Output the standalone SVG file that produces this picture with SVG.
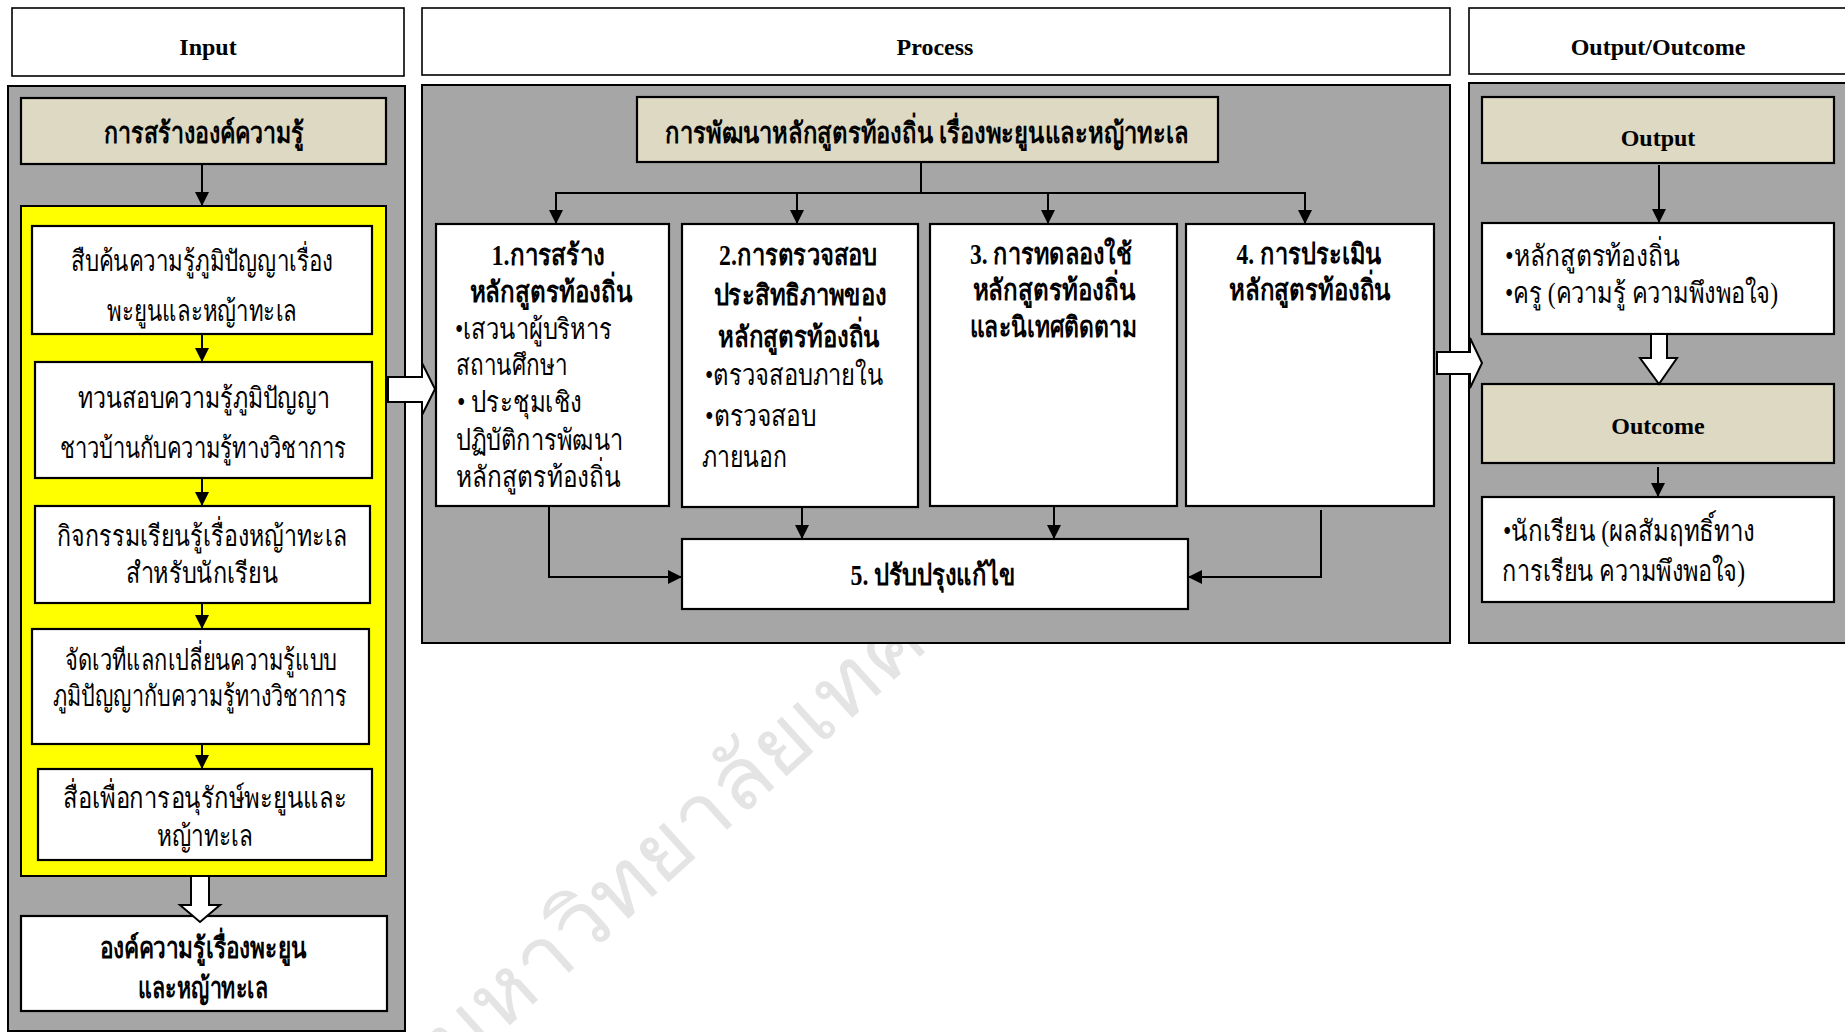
<svg xmlns="http://www.w3.org/2000/svg" width="1845" height="1032" viewBox="0 0 1845 1032">
<defs>
<marker id="ah" markerUnits="userSpaceOnUse" markerWidth="14" markerHeight="14" viewBox="0 0 14 14" refX="13" refY="7" orient="auto">
<path d="M0,0 L14,7 L0,14 z" fill="#000"/>
</marker>
<style>
.hdrbox{fill:#fff;stroke:#000;stroke-width:1.6}
.panel{fill:#a6a6a6;stroke:#000;stroke-width:2}
.beige{fill:#ddd9c3;stroke:#000;stroke-width:2.2}
.wbox{fill:#fff;stroke:#000;stroke-width:2.2}
.ybox{fill:#ffff00;stroke:#000;stroke-width:2}
.hollow{fill:#fff;stroke:#000;stroke-width:2;stroke-linejoin:miter}
.hdr{font-family:"Liberation Serif",serif;font-weight:bold;font-size:24px;fill:#000;text-anchor:middle}
.th{font-family:"Liberation Serif",serif;font-size:29px;fill:#000}
.thb{font-family:"Liberation Serif",serif;font-size:29px;font-weight:bold;fill:#000}
.c{text-anchor:middle}
.conn line,.conn polyline{stroke:#000;stroke-width:2;fill:none}
.wm{font-family:"Liberation Sans",sans-serif;font-size:85px;fill:#e4e4e4}
</style>
</defs>
<rect x="0" y="0" width="1845" height="1032" fill="#fff"/>
<text class="wm" x="455" y="1075" transform="rotate(-42 455 1075)" textLength="640" lengthAdjust="spacingAndGlyphs">มหาวิทยาลัยเทค</text>

<g id="header-input"><rect class="hdrbox" x="12" y="8" width="392" height="68"/><text class="hdr" x="208" y="55">Input</text></g>
<g id="header-process"><rect class="hdrbox" x="422" y="8" width="1028" height="67"/><text class="hdr" x="935" y="55">Process</text></g>
<g id="header-output"><rect class="hdrbox" x="1469" y="8" width="400" height="66"/><text class="hdr" x="1658" y="55">Output/Outcome</text></g>

<g id="panel-input"><rect class="panel" x="8" y="86" width="397" height="945"/></g>
<g id="panel-process"><rect class="panel" x="422" y="85" width="1028" height="558"/></g>
<g id="panel-output"><rect class="panel" x="1469" y="83" width="400" height="560"/></g>

<g id="in-title"><rect class="beige" x="21" y="98" width="365" height="66"/><text class="thb c" x="204" y="143" textLength="200" lengthAdjust="spacingAndGlyphs">การสร้างองค์ความรู้</text></g>
<g id="in-yellow"><rect class="ybox" x="21" y="206" width="365" height="670"/></g>
<g id="in-1"><rect class="wbox" x="32" y="226" width="340" height="108"/><text class="th c" x="202" y="271" textLength="262" lengthAdjust="spacingAndGlyphs">สืบค้นความรู้ภูมิปัญญาเรื่อง</text><text class="th c" x="202" y="321" textLength="190" lengthAdjust="spacingAndGlyphs">พะยูนและหญ้าทะเล</text></g>
<g id="in-2"><rect class="wbox" x="35" y="362" width="337" height="116"/><text class="th c" x="204" y="408" textLength="252" lengthAdjust="spacingAndGlyphs">ทวนสอบความรู้ภูมิปัญญา</text><text class="th c" x="203" y="458" textLength="287" lengthAdjust="spacingAndGlyphs">ชาวบ้านกับความรู้ทางวิชาการ</text></g>
<g id="in-3"><rect class="wbox" x="35" y="506" width="335" height="97"/><text class="th c" x="202" y="546" textLength="290" lengthAdjust="spacingAndGlyphs">กิจกรรมเรียนรู้เรื่องหญ้าทะเล</text><text class="th c" x="202" y="583" textLength="152" lengthAdjust="spacingAndGlyphs">สำหรับนักเรียน</text></g>
<g id="in-4"><rect class="wbox" x="32" y="629" width="337" height="115"/><text class="th c" x="201" y="670" textLength="272" lengthAdjust="spacingAndGlyphs">จัดเวทีแลกเปลี่ยนความรู้แบบ</text><text class="th c" x="200" y="706" textLength="294" lengthAdjust="spacingAndGlyphs">ภูมิปัญญากับความรู้ทางวิชาการ</text></g>
<g id="in-5"><rect class="wbox" x="38" y="769" width="334" height="91"/><text class="th c" x="205" y="808" textLength="284" lengthAdjust="spacingAndGlyphs">สื่อเพื่อการอนุรักษ์พะยูนและ</text><text class="th c" x="205" y="846" textLength="96" lengthAdjust="spacingAndGlyphs">หญ้าทะเล</text></g>
<g id="in-result"><rect class="wbox" x="21" y="916" width="366" height="95"/><text class="thb c" x="203" y="958" textLength="207" lengthAdjust="spacingAndGlyphs">องค์ความรู้เรื่องพะยูน</text><text class="thb c" x="203" y="998" textLength="130" lengthAdjust="spacingAndGlyphs">และหญ้าทะเล</text></g>

<g id="pr-title"><rect class="beige" x="637" y="97" width="581" height="65"/><text class="thb c" x="927" y="143" textLength="524" lengthAdjust="spacingAndGlyphs">การพัฒนาหลักสูตรท้องถิ่น เรื่องพะยูนและหญ้าทะเล</text></g>
<g id="pr-1"><rect class="wbox" x="436" y="224" width="233" height="282"/>
<text class="thb c" x="548" y="265" textLength="113" lengthAdjust="spacingAndGlyphs">1.การสร้าง</text><text class="thb c" x="551" y="302" textLength="163" lengthAdjust="spacingAndGlyphs">หลักสูตรท้องถิ่น</text>
<text class="th" x="455" y="339" textLength="157" lengthAdjust="spacingAndGlyphs">•เสวนาผู้บริหาร</text><text class="th" x="456" y="375" textLength="111" lengthAdjust="spacingAndGlyphs">สถานศึกษา</text><text class="th" x="457" y="412" textLength="125" lengthAdjust="spacingAndGlyphs">• ประชุมเชิง</text><text class="th" x="456" y="450" textLength="167" lengthAdjust="spacingAndGlyphs">ปฏิบัติการพัฒนา</text><text class="th" x="456" y="487" textLength="165" lengthAdjust="spacingAndGlyphs">หลักสูตรท้องถิ่น</text></g>
<g id="pr-2"><rect class="wbox" x="682" y="224" width="236" height="283"/>
<text class="thb c" x="798" y="265" textLength="158" lengthAdjust="spacingAndGlyphs">2.การตรวจสอบ</text><text class="thb c" x="800" y="305" textLength="173" lengthAdjust="spacingAndGlyphs">ประสิทธิภาพของ</text><text class="thb c" x="799" y="347" textLength="162" lengthAdjust="spacingAndGlyphs">หลักสูตรท้องถิ่น</text>
<text class="th" x="705" y="385" textLength="178" lengthAdjust="spacingAndGlyphs">•ตรวจสอบภายใน</text><text class="th" x="705" y="426" textLength="111" lengthAdjust="spacingAndGlyphs">•ตรวจสอบ</text><text class="th" x="702" y="467" textLength="85" lengthAdjust="spacingAndGlyphs">ภายนอก</text></g>
<g id="pr-3"><rect class="wbox" x="930" y="224" width="247" height="282"/>
<text class="thb c" x="1051" y="264" textLength="162" lengthAdjust="spacingAndGlyphs">3. การทดลองใช้</text><text class="thb c" x="1054" y="300" textLength="163" lengthAdjust="spacingAndGlyphs">หลักสูตรท้องถิ่น</text><text class="thb c" x="1053" y="337" textLength="167" lengthAdjust="spacingAndGlyphs">และนิเทศติดตาม</text></g>
<g id="pr-4"><rect class="wbox" x="1186" y="224" width="248" height="282"/>
<text class="thb c" x="1309" y="264" textLength="145" lengthAdjust="spacingAndGlyphs">4. การประเมิน</text><text class="thb c" x="1310" y="300" textLength="162" lengthAdjust="spacingAndGlyphs">หลักสูตรท้องถิ่น</text></g>
<g id="pr-5"><rect class="wbox" x="682" y="539" width="506" height="70"/><text class="thb c" x="933" y="585" textLength="165" lengthAdjust="spacingAndGlyphs">5. ปรับปรุงแก้ไข</text></g>

<g id="out-title"><rect class="beige" x="1482" y="97" width="352" height="66"/><text class="hdr" x="1658" y="146">Output</text></g>
<g id="out-1"><rect class="wbox" x="1482" y="223" width="352" height="111"/><text class="th" x="1505" y="266" textLength="175" lengthAdjust="spacingAndGlyphs">•หลักสูตรท้องถิ่น</text><text class="th" x="1505" y="303" textLength="273" lengthAdjust="spacingAndGlyphs">•ครู (ความรู้ ความพึงพอใจ)</text></g>
<g id="outcome-title"><rect class="beige" x="1482" y="384" width="352" height="79"/><text class="hdr" x="1658" y="434">Outcome</text></g>
<g id="outcome-1"><rect class="wbox" x="1482" y="497" width="352" height="105"/><text class="th" x="1503" y="541" textLength="252" lengthAdjust="spacingAndGlyphs">•นักเรียน (ผลสัมฤทธิ์ทาง</text><text class="th" x="1502" y="581" textLength="243" lengthAdjust="spacingAndGlyphs">การเรียน ความพึงพอใจ)</text></g>

<g id="connectors" class="conn">
<line x1="202" y1="164" x2="202" y2="205" marker-end="url(#ah)"/>
<line x1="202" y1="334" x2="202" y2="361" marker-end="url(#ah)"/>
<line x1="202" y1="478" x2="202" y2="505" marker-end="url(#ah)"/>
<line x1="202" y1="603" x2="202" y2="628" marker-end="url(#ah)"/>
<line x1="202" y1="744" x2="202" y2="768" marker-end="url(#ah)"/>
<polygon class="hollow" points="191,876 209,876 209,905 220,905 200,922 180,905 191,905"/>
<polygon class="hollow" points="388,377 422,377 422,363 435,389 422,415 422,402 388,402"/>
<line x1="921" y1="162" x2="921" y2="193"/>
<line x1="555" y1="193" x2="1306" y2="193"/>
<line x1="556" y1="193" x2="556" y2="223" marker-end="url(#ah)"/>
<line x1="797" y1="193" x2="797" y2="223" marker-end="url(#ah)"/>
<line x1="1048" y1="193" x2="1048" y2="223" marker-end="url(#ah)"/>
<line x1="1305" y1="193" x2="1305" y2="223" marker-end="url(#ah)"/>
<polyline points="549,506 549,577 681,577" marker-end="url(#ah)"/>
<line x1="802" y1="507" x2="802" y2="538" marker-end="url(#ah)"/>
<line x1="1054" y1="506" x2="1054" y2="538" marker-end="url(#ah)"/>
<polyline points="1321,510 1321,577 1189,577" marker-end="url(#ah)"/>
<polygon class="hollow" points="1437,352 1470,352 1470,338 1482,363 1470,388 1470,374 1437,374"/>
<line x1="1659" y1="165" x2="1659" y2="222" marker-end="url(#ah)"/>
<polygon class="hollow" points="1651,334 1667,334 1667,358 1677,358 1659,384 1640,358 1651,358"/>
<line x1="1658" y1="467" x2="1658" y2="496" marker-end="url(#ah)"/>
</g>
</svg>
